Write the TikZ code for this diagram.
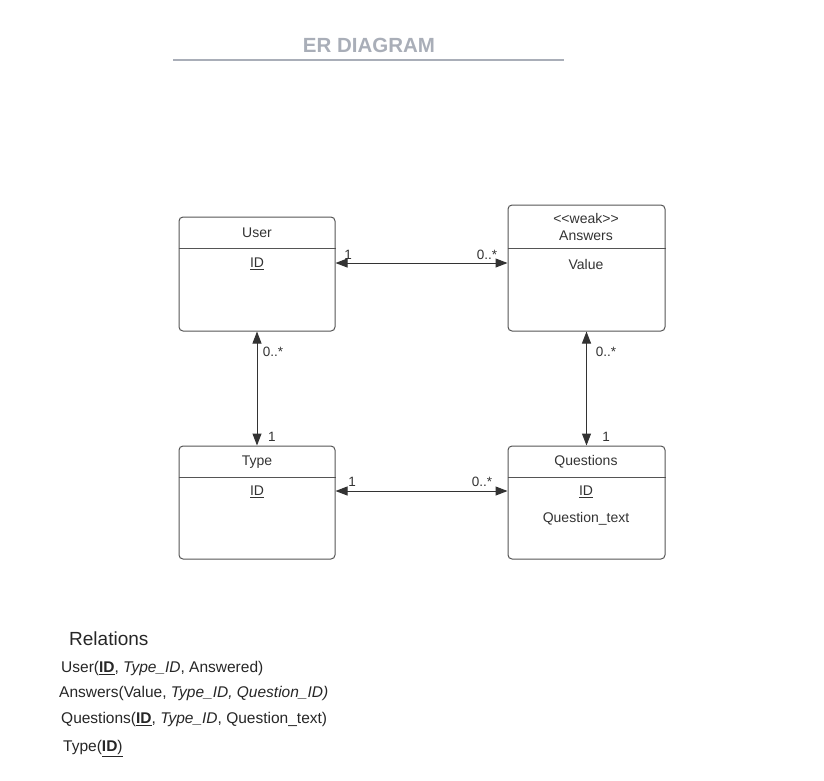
\documentclass[tikz,border=0pt]{standalone}
\usepackage{fontspec}
\setmainfont{Liberation Sans}
\usetikzlibrary{arrows.meta,calc}

\definecolor{titlegray}{HTML}{A9AEB8}
\definecolor{boxline}{HTML}{555555}
\definecolor{ink}{HTML}{333333}

\tikzset{
  entity/.style={draw=boxline, line width=1pt, rounded corners=4pt, inner sep=0pt},
  divider/.style={draw=boxline, line width=1pt},
  field/.style={text=ink, font=\fontsize{14}{16}\selectfont, inner sep=0pt},
  mult/.style={text=ink, font=\fontsize{13.5}{15}\selectfont, inner sep=0pt},
  relation/.style={draw=ink, line width=1pt, {Triangle[length=12pt,width=9pt]}-{Triangle[length=12pt,width=9pt]}},
  relrow/.style={anchor=west, text=black!85, font=\fontsize{15.5}{18}\selectfont, inner sep=0pt}
}

\begin{document}
\begin{tikzpicture}[x=1pt,y=-1pt]
	\useasboundingbox (0,0) rectangle (824,780);

	% title
	\node[text=titlegray, font=\bfseries\fontsize{20.5}{24}\selectfont] (title) at (369,45.5) {ER DIAGRAM};
	\draw[titlegray, line width=1.5pt] (173,60) -- (564,60);

	% entities
	\node[entity, minimum width=156pt, minimum height=114pt] (user) at (257,274) {};
	\node[entity, minimum width=157pt, minimum height=126pt] (answers) at (586.5,268) {};
	\node[entity, minimum width=156pt, minimum height=113pt] (type) at (257,502.5) {};
	\node[entity, minimum width=157pt, minimum height=113pt] (questions) at (586.5,502.5) {};

	\draw[divider] (user.west |- 0,248) -- (user.east |- 0,248);
	\draw[divider] (answers.west |- 0,248) -- (answers.east |- 0,248);
	\draw[divider] (type.west |- 0,477) -- (type.east |- 0,477);
	\draw[divider] (questions.west |- 0,477) -- (questions.east |- 0,477);

	\node[field] (userName) at (257,233) {User};
	\node[field] (userId) at (257,264) {\underline{ID}};
	\node[field] (answersStereo) at (586,218) {{<}{<}weak{>}{>}};
	\node[field] (answersName) at (586,236) {Answers};
	\node[field] (answersValue) at (586,264) {Value};
	\node[field] (typeName) at (257,462) {Type};
	\node[field] (typeId) at (257,492) {\underline{ID}};
	\node[field] (questionsName) at (586,462) {Questions};
	\node[field] (questionsId) at (586,492) {\underline{ID}};
	\node[field] (questionsText) at (586,519) {Question\_text};

	% relationships
	\draw[relation] (user.east |- 0,263) -- (answers.west |- 0,263);
	\draw[relation] (user.south) -- (type.north);
	\draw[relation] (answers.south) -- (questions.north);
	\draw[relation] (type.east |- 0,491) -- (questions.west |- 0,491);

	\node[mult] at (348,255) {1};
	\node[mult] at (487,255) {0..*};
	\node[mult] at (273,352) {0..*};
	\node[mult] at (272,437) {1};
	\node[mult] at (606,352) {0..*};
	\node[mult] at (606,437) {1};
	\node[mult] at (352,482) {1};
	\node[mult] at (482,482) {0..*};

	% relations
	\node[relrow, font=\fontsize{19}{22}\selectfont] (relTitle) at (69,639) {Relations};
	\node[relrow] (relUser) at (61,668.5) {User(\underline{\textbf{ID}}, \textit{Type\_ID}, Answered)};
	\node[relrow] (relAnswers) at (59,693.5) {Answers(Value, \textit{Type\_ID, Question\_ID)}};
	\node[relrow] (relQuestions) at (61,719.5) {Questions(\underline{\textbf{ID}}, \textit{Type\_ID}, Question\_text)};
	\node[relrow] (relType) at (63,748.5) {Type(\underline{\textbf{ID})}};

\end{tikzpicture}
\end{document}
